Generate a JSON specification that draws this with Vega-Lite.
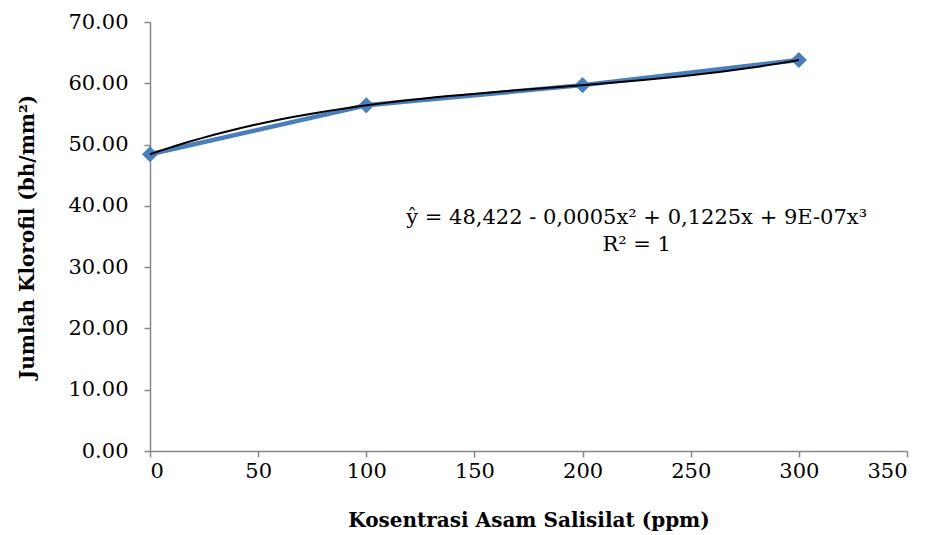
{
  "$schema": "https://vega.github.io/schema/vega-lite/v6.json",
  "width": 757,
  "height": 429,
  "autosize": {"type": "none"},
  "padding": {"left": 150, "top": 22, "right": 24, "bottom": 84},
  "background": "white",
  "config": {
    "view": {"stroke": null},
    "font": "DejaVu Serif",
    "text": {"font": "DejaVu Serif"},
    "axis": {
      "grid": false,
      "domainColor": "#868686",
      "tickColor": "#868686",
      "domainWidth": 1.5,
      "tickWidth": 1.5,
      "tickSize": 6,
      "labelFont": "DejaVu Serif",
      "labelFontSize": 21,
      "labelColor": "black",
      "titleFont": "DejaVu Serif",
      "titleFontSize": 20,
      "titleFontWeight": "bold",
      "titleColor": "black"
    }
  },
  "data": {
    "values": [
      {"x": 0, "y": 48.42},
      {"x": 100, "y": 56.4},
      {"x": 200, "y": 59.7},
      {"x": 300, "y": 63.8}
    ]
  },
  "layer": [
    {
      "mark": {"type": "line", "color": "#4a7ebb", "strokeWidth": 4.5},
      "encoding": {
        "x": {"field": "x", "type": "quantitative", "scale": {"domain": [0, 350]},
          "axis": {"title": "Kosentrasi Asam Salisilat (ppm)", "values": [0,50,100,150,200,250,300,350], "labelPadding": 3, "titlePadding": 29}},
        "y": {"field": "y", "type": "quantitative", "scale": {"domain": [0, 70]},
          "axis": {"title": "Jumlah Klorofil (bh/mm²)", "values": [0,10,20,30,40,50,60,70], "format": ".2f", "labelPadding": 16, "titlePadding": 30}}
      }
    },
    {
      "mark": {"type": "point", "shape": "diamond", "filled": true, "color": "#4a7ebb", "opacity": 1, "size": 260},
      "encoding": {
        "x": {"field": "x", "type": "quantitative"},
        "y": {"field": "y", "type": "quantitative"}
      }
    },
    {
      "transform": [{"regression": "y", "on": "x", "method": "poly", "order": 3}],
      "mark": {"type": "line", "color": "black", "strokeWidth": 2},
      "encoding": {
        "x": {"field": "x", "type": "quantitative"},
        "y": {"field": "y", "type": "quantitative"}
      }
    },
    {
      "data": {"values": [{"t": "ŷ = 48,422 - 0,0005x² + 0,1225x + 9E-07x³"}]},
      "mark": {"type": "text", "fontSize": 21, "color": "black", "align": "center", "baseline": "middle"},
      "encoding": {"x": {"datum": 225}, "y": {"datum": 38}, "text": {"field": "t"}}
    },
    {
      "data": {"values": [{"t": "R² = 1"}]},
      "mark": {"type": "text", "fontSize": 21, "color": "black", "align": "center", "baseline": "middle"},
      "encoding": {"x": {"datum": 225}, "y": {"datum": 33.6}, "text": {"field": "t"}}
    }
  ]
}
